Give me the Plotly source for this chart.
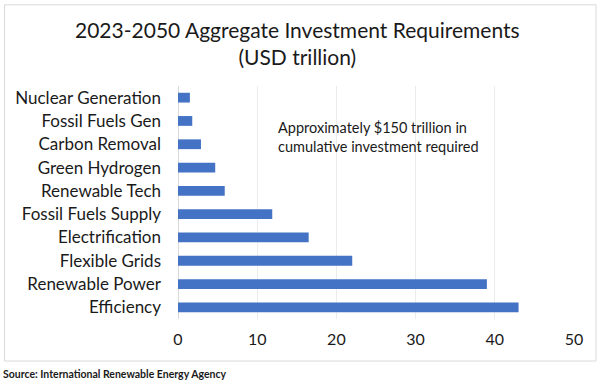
import plotly.graph_objects as go

categories = ["Nuclear Generation", "Fossil Fuels Gen", "Carbon Removal", "Green Hydrogen",
              "Renewable Tech", "Fossil Fuels Supply", "Electrification", "Flexible Grids",
              "Renewable Power", "Efficiency"]
values = [1.5, 1.8, 2.9, 4.7, 5.9, 11.9, 16.5, 22.0, 39.0, 43.0]
x_ticks = [0, 10, 20, 30, 40, 50]

title_text = "2023-2050 Aggregate Investment Requirements<br>(USD trillion)"
note_text = "Approximately $150 trillion in<br>cumulative investment required"
source_text = "Source: International Renewable Energy Agency"

FONT = "Lato"
W, H = 603, 383
L, R = 178, 574
T, B = 86.4, 318.6

def px(x):
    return (x - L) / (R - L)

def py(y):
    return (B - y) / (B - T)

fig = go.Figure(go.Bar(
    x=values, y=categories, orientation="h",
    marker=dict(color="#4472C4", line=dict(width=0)),
    width=0.42,
))

fig.update_layout(
    width=W, height=H,
    margin=dict(l=L, r=W - R, t=T, b=H - B),
    paper_bgcolor="white", plot_bgcolor="white",
    showlegend=False,
    font=dict(family=FONT, color="#000000"),
    xaxis=dict(range=[0, 50], tickvals=x_ticks, showgrid=True, gridcolor="#ECECEC",
               gridwidth=1, zeroline=True, zerolinecolor="#D9D9D9", zerolinewidth=1,
               showline=False, ticks="", tickfont=dict(size=16, family=FONT, color="#1a1a1a"),
               ticklen=0, ticklabelstandoff=9, fixedrange=True),
    yaxis=dict(autorange="reversed", showgrid=False, showline=False, ticks="",
               tickfont=dict(size=17, family=FONT, color="#1a1a1a"),
               ticklabelstandoff=16, fixedrange=True),
    bargap=0.58,
)

fig.add_annotation(text=title_text, xref="paper", yref="paper",
                   x=px(297), y=py(44), xanchor="center", yanchor="middle",
                   showarrow=False, align="center",
                   font=dict(size=21, family=FONT, color="#1a1a1a"))
fig.add_annotation(text=note_text, xref="paper", yref="paper",
                   x=px(276), y=py(137), xanchor="left", yanchor="middle",
                   showarrow=False, align="left",
                   font=dict(size=14.5, family=FONT, color="#1a1a1a"))
fig.add_annotation(text="<b>" + source_text + "</b>", xref="paper", yref="paper",
                   x=px(1), y=py(373), xanchor="left", yanchor="middle",
                   showarrow=False, align="left",
                   font=dict(size=10.5, family=FONT, color="#1a1a1a"))
fig.add_shape(type="rect", xref="paper", yref="paper",
              x0=px(4.5), x1=px(596), y0=py(5.5), y1=py(360.5),
              line=dict(color="#D9D9D9", width=1), fillcolor="rgba(0,0,0,0)", layer="below")

fig.write_html("out.html", config={"displayModeBar": False},
               post_script="document.body.style.margin='0';document.body.style.overflow='hidden';")
